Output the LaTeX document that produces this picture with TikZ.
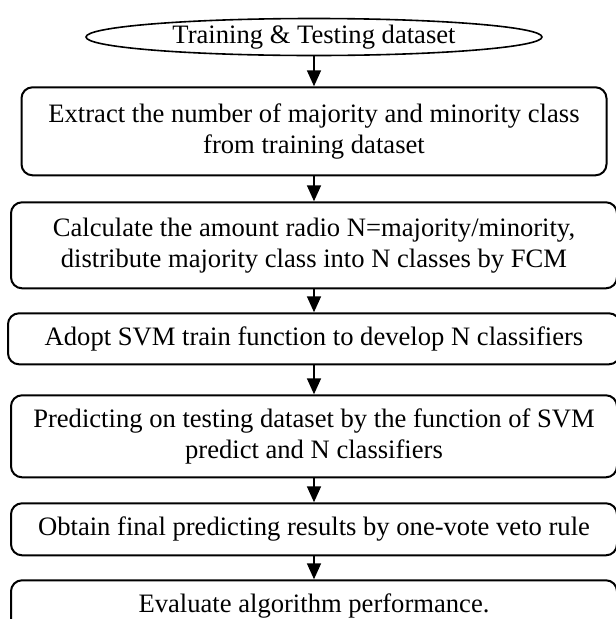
\documentclass[tikz,border=0pt]{standalone}
\usepackage{fontspec}
\setmainfont{Liberation Serif}
\usetikzlibrary{arrows.meta,positioning,shapes.geometric}

\begin{document}
\begin{tikzpicture}[
    x=1pt, y=1pt,
    every node/.style={align=center, font=\fontsize{26.6}{31}\selectfont},
    box/.style={
        rectangle,
        rounded corners=11pt,
        draw=black,
        line width=2pt,
        minimum width=606pt,
        inner sep=0pt
    },
    flow/.style={-{Triangle[width=14pt,length=16pt]}, line width=1.6pt}
]
\useasboundingbox (0,0) rectangle (616,-619);

\node[ellipse, draw, line width=1.6pt, minimum width=456pt, minimum height=37pt, inner sep=0pt] (data) at (314,-37) {Training \& Testing dataset};
\node[box, below=30pt of data, minimum width=585pt, minimum height=88pt] (extract) {Extract the number of majority and minority class\\from training dataset};
\node[box, below=25pt of extract, minimum height=86pt] (ratio) {Calculate the amount radio N=majority/minority,\\distribute majority class into N classes by FCM};
\node[box, below=23pt of ratio, minimum width=612pt, minimum height=51pt] (train) {Adopt SVM train function to develop N classifiers};
\node[box, below=29pt of train, minimum height=82pt] (predict) {Predicting on testing dataset by the function of SVM\\predict and N classifiers};
\node[box, below=24pt of predict, minimum height=52pt] (vote) {Obtain final predicting results by one-vote veto rule};
\node[box, below=23pt of vote, minimum height=52pt] (eval) {Evaluate algorithm performance.};

\draw[flow] (data) -- (extract);
\draw[flow] (extract) -- (ratio);
\draw[flow] (ratio) -- (train);
\draw[flow] (train) -- (predict);
\draw[flow] (predict) -- (vote);
\draw[flow] (vote) -- (eval);
\end{tikzpicture}
\end{document}
